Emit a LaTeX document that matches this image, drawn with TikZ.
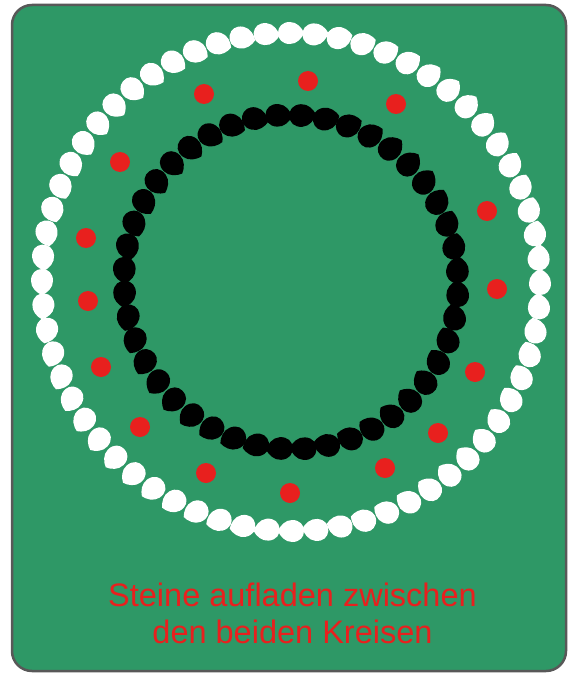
\documentclass[tikz,border=0pt]{standalone}
\usepackage{fontspec}
\setmainfont{Liberation Sans}
\usetikzlibrary{calc}
\definecolor{boardgreen}{RGB}{46,152,102}
\definecolor{stonered}{RGB}{232,32,30}
\definecolor{framegray}{RGB}{88,88,88}

\begin{document}
\begin{tikzpicture}[
    x=1pt, y=-1pt,
    board/.style={draw=framegray, line width=2.5pt, fill=boardgreen, rounded corners=20pt},
    stone/.pic={\path[pic actions] (13,0) .. controls (11,5) and (6,11) .. (-1,11)
        .. controls (-9,11) and (-13,6) .. (-13,0)
        .. controls (-13,-6) and (-9,-11) .. (-1,-11)
        .. controls (6,-11) and (11,-5) .. (13,0) -- cycle;},
    whitebead/.style={fill=white},
    blackbead/.style={fill=black, scale=1.03},
    dot/.style={circle, fill=stonered, inner sep=0pt, minimum size=20pt},
    caption/.style={text=stonered, anchor=base, font=\fontsize{32.5}{37}\selectfont}
]
\useasboundingbox (0,0) rectangle (570,674);
\draw[board] (12,5) rectangle (566,671);

% outer ring
\coordinate (mid) at (291,282);
\foreach \i in {1,...,64} {
    \coordinate (w\i) at ($(mid)+({360/64*\i}:249)$);
    \pic[whitebead, rotate=360/64*\i+90] at (w\i) {stone};
}

% inner ring
\foreach \i in {1,...,44} {
    \coordinate (b\i) at ($(mid)+({360/44*\i+4}:167)$);
    \pic[blackbead, rotate=360/44*\i+94] at (b\i) {stone};
}

% stones between the rings
\foreach \p [count=\k] in {(308,81), (204,94), (396,104), (120,162), (487,211),
    (86,238), (497,289), (88,301), (101,367), (475,372),
    (140,427), (438,433), (206,473), (385,468), (290,493)}
    \node[dot] (s\k) at \p {};

\node[caption] (line1) at (292.5,606) {Steine aufladen zwischen};
\node[caption] (line2) at (292.5,643) {den beiden Kreisen};
\end{tikzpicture}
\end{document}
